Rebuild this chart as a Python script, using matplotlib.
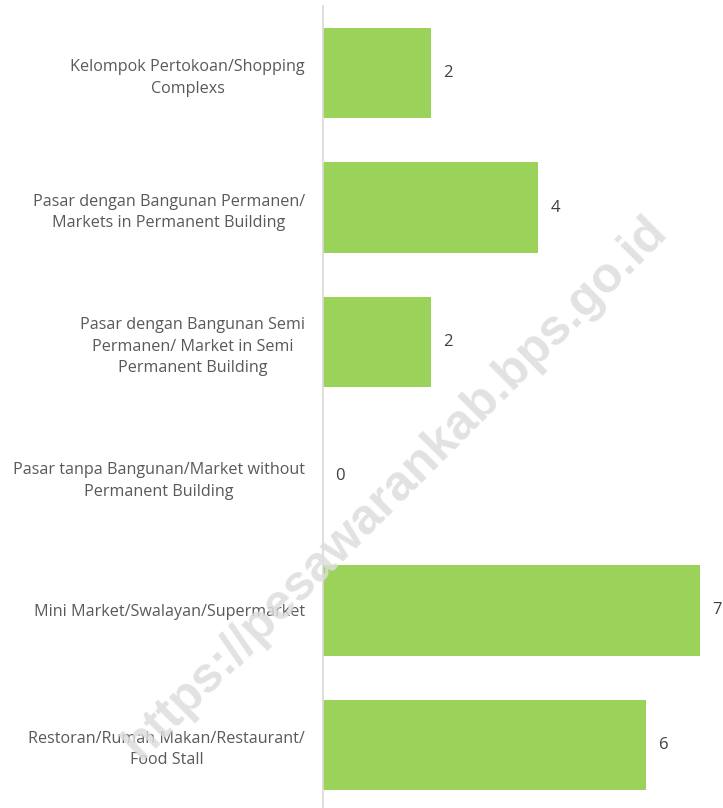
import matplotlib
matplotlib.use("Agg")
from matplotlib import pyplot as plt
import numpy as np

# categories (top to bottom) and counts
categories = [
    "Kelompok Pertokoan/Shopping\nComplexs",
    "Pasar dengan Bangunan Permanen/\nMarkets in Permanent Building",
    "Pasar dengan Bangunan Semi\nPermanen/ Market in Semi\nPermanent Building",
    "Pasar tanpa Bangunan/Market without\nPermanent Building",
    "Mini Market/Swalayan/Supermarket",
    "Restoran/Rumah Makan/Restaurant/\nFood Stall",
]
values = [2, 4, 2, 0, 7, 6]

plt.rcParams['font.family'] = ['Open Sans', 'DejaVu Sans']
txt_color = '#595959'

fig = plt.figure(figsize=(7.23, 8.08), dpi=100)
ax = fig.add_axes([323/723, -4/808, (700-323)/723, (808 - 6 + 4)/808])

ind = np.arange(len(values))
bars = ax.barh(ind, values, height=0.67, color='#9BD35A')
ax.set_ylim(len(values) - 0.5, -0.5)
ax.set_xlim(0, 7)

ax.set_yticks(ind)
ax.set_yticklabels(categories, fontsize=11.6, color=txt_color,
                   multialignment='center', linespacing=1.45)
ax.tick_params(axis='y', length=0, pad=13)
ax.set_xticks([])

for s in ['top', 'right', 'bottom']:
    ax.spines[s].set_visible(False)
ax.spines['left'].set_color('#d9d9d9')
ax.spines['left'].set_linewidth(1.2)

for b, v in zip(bars, values):
    ax.annotate(str(v), (b.get_width(), b.get_y() + b.get_height() / 2),
                xytext=(9, 0), textcoords='offset points', ha='left', va='center',
                fontsize=12, color='#404040', annotation_clip=False)

# watermark
fig.text(395/723, 1 - 488/808, "https://pesawarankab.bps.go.id", rotation=45,
         ha='center', va='center', fontsize=36, fontweight='bold',
         family='Liberation Sans', color='#dddddd', alpha=0.85, zorder=10)

fig.savefig("out.png", dpi=100)
